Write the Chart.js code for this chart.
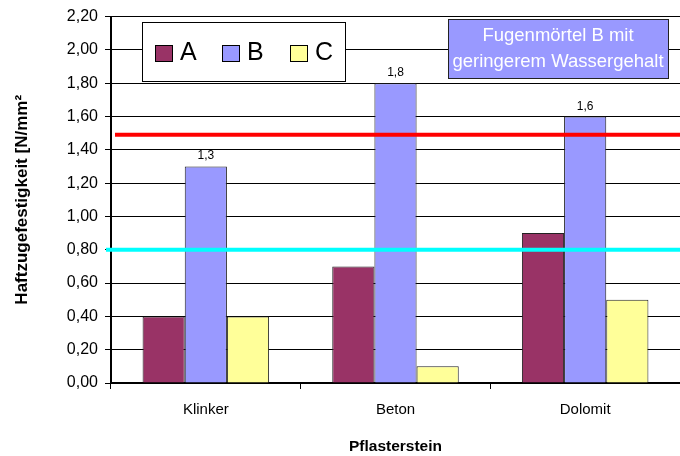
<!DOCTYPE html>
<html>
<head>
<meta charset="utf-8">
<script src="https://cdn.jsdelivr.net/npm/chart.js@4"></script>
<style>
    body { margin: 0; background: #fff; }
    canvas { display: block; }
</style>
</head>
<body>
<canvas id="chart" width="680" height="456"></canvas>
<script>
const categories = ["Klinker", "Beton", "Dolomit"];
const seriesNames = ["A", "B", "C"];
const valuesA = [0.4, 0.7, 0.9];
const valuesB = [1.3, 1.8, 1.6];
const valuesC = [0.4, 0.1, 0.5];
const refLines = [1.49, 0.8];
const refColors = ["#ff0000", "#00ffff"];
const noteLines = ["Fugenmörtel B mit", "geringerem Wassergehalt"];
const colors = ["#993366", "#9999ff", "#ffff99"];

const fmt = (v, d) => v.toFixed(d).replace(".", ",");
const FONT = "'Liberation Sans', Arial";

// reference lines, value labels, legend box and note box
const extras = {
    id: "extras",
    afterDatasetsDraw(chart) {
        const { ctx, chartArea, scales } = chart;
        ctx.save();
        refLines.forEach((v, i) => {
            const y = scales.y.getPixelForValue(v);
            ctx.strokeStyle = refColors[i];
            ctx.lineWidth = 4;
            ctx.beginPath();
            ctx.moveTo(chartArea.left + (i === 0 ? 4 : -5), y);
            ctx.lineTo(chartArea.right, y);
            ctx.stroke();
        });

        // labels over B bars
        const metaB = chart.getDatasetMeta(1);
        ctx.fillStyle = "#000";
        ctx.font = "12px " + FONT;
        ctx.textAlign = "center";
        ctx.textBaseline = "alphabetic";
        metaB.data.forEach((bar, i) => {
            ctx.fillText(fmt(valuesB[i], 1), bar.x, bar.y - 7);
        });

        // legend
        ctx.fillStyle = "#fff";
        ctx.fillRect(142, 22, 203, 59);
        ctx.strokeStyle = "#000";
        ctx.lineWidth = 1;
        ctx.strokeRect(142.5, 22.5, 203, 59);
        const sx = [155, 222, 290];
        ctx.font = "25px " + FONT;
        ctx.textAlign = "left";
        ctx.textBaseline = "middle";
        seriesNames.forEach((n, i) => {
            ctx.fillStyle = colors[i];
            ctx.fillRect(sx[i], 45, 17, 16);
            ctx.strokeStyle = "#000";
            ctx.strokeRect(sx[i] + 0.5, 45.5, 17, 16);
            ctx.fillStyle = "#000";
            ctx.fillText(n, sx[i] + 25, 53);
        });

        // note box
        ctx.fillStyle = "#9999ff";
        ctx.fillRect(448, 19, 220, 59);
        ctx.strokeStyle = "#222";
        ctx.strokeRect(448.5, 19.5, 220, 59);
        ctx.fillStyle = "#fff";
        ctx.font = "18.5px " + FONT;
        ctx.textAlign = "center";
        ctx.fillText(noteLines[0], 558, 36);
        ctx.fillText(noteLines[1], 558, 62);
        ctx.restore();
    },
};

new Chart(document.getElementById("chart"), {
    type: "bar",
    data: {
        labels: categories,
        datasets: [valuesA, valuesB, valuesC].map((vals, i) => ({
            label: seriesNames[i],
            data: vals,
            backgroundColor: colors[i],
            borderColor: "#222",
            borderWidth: 1,
            categoryPercentage: 0.667,
            barPercentage: 1,
        })),
    },
    options: {
        responsive: false,
        animation: false,
        layout: { padding: { top: 13, right: 0, bottom: 0, left: 0 } },
        plugins: {
            legend: { display: false },
            tooltip: { enabled: false },
        },
        scales: {
            x: {
                grid: {
                    display: true,
                    drawOnChartArea: false,
                    offset: true,
                    color: "#000",
                    tickLength: 6,
                },
                border: { color: "#000", width: 2 },
                ticks: {
                    color: "#000",
                    font: { family: FONT, size: 15 },
                    padding: 12,
                },
                title: {
                    display: true,
                    text: "Pflasterstein",
                    color: "#000",
                    font: { family: FONT, size: 15.5, weight: "bold" },
                    padding: { top: 0, bottom: 0 },
                },
                afterFit(scale) {
                    scale.height = 73;
                },
            },
            y: {
                min: 0,
                max: 2.2,
                ticks: {
                    stepSize: 0.2,
                    color: "#000",
                    font: { family: FONT, size: 16 },
                    padding: 7,
                    callback: (v) => fmt(v, 2),
                },
                grid: {
                    color: "#000",
                    tickLength: 6,
                },
                border: { color: "#000", width: 2 },
                title: {
                    display: true,
                    text: "Haftzugefestigkeit [N/mm²",
                    color: "#000",
                    font: { family: FONT, size: 17, weight: "bold" },
                    padding: { top: 12, bottom: 0 },
                },
                afterFit(scale) {
                    scale.width = 111;
                },
            },
        },
    },
    plugins: [extras],
});
</script>
</body>
</html>
